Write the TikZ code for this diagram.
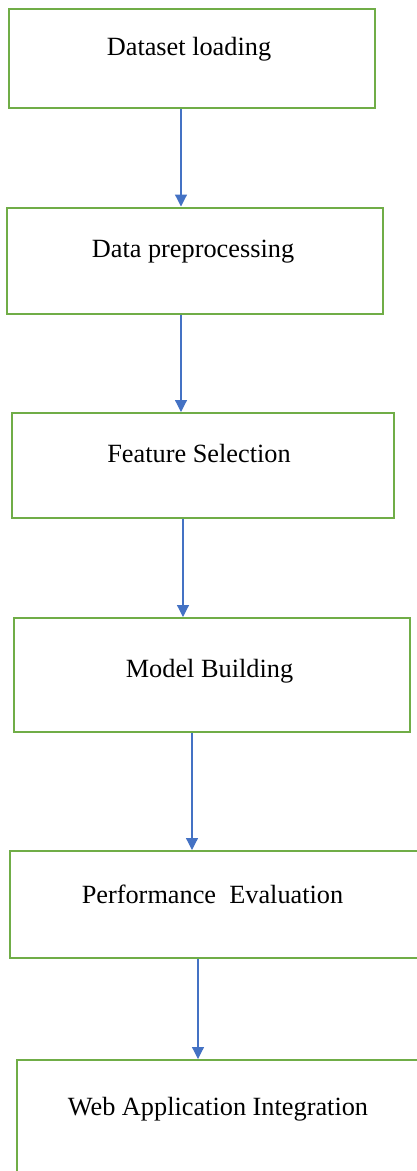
\documentclass[tikz,border=0pt]{standalone}
\usepackage{fontspec}
\setmainfont{Liberation Serif}
\usetikzlibrary{arrows.meta}
\definecolor{boxgreen}{HTML}{70AD47}
\definecolor{flowblue}{HTML}{4472C4}
\tikzset{
  x=1pt, y=-1pt,
  stagebox/.style={draw=boxgreen, line width=2pt, fill=white},
  stagetext/.style={anchor=base, inner sep=0pt, font=\fontsize{26.3}{30}\selectfont},
  flowarrow/.style={draw=flowblue, line width=1.2pt,
    -{Triangle[width=12pt,length=12pt]}}
}
\begin{document}
\begin{tikzpicture}
\useasboundingbox (0,0) rectangle (417,1171);
\clip (0,0) rectangle (417,1171);
% stage boxes
\node[stagebox, rectangle, minimum width=366pt, minimum height=99pt, anchor=north west] (b1) at (8,8) {};
\node[stagebox, rectangle, minimum width=376pt, minimum height=106pt, anchor=north west] (b2) at (6,206.5) {};
\node[stagebox, rectangle, minimum width=382pt, minimum height=105pt, anchor=north west] (b3) at (11,412) {};
\node[stagebox, rectangle, minimum width=396pt, minimum height=114pt, anchor=north west] (b4) at (13,617) {};
\node[stagebox, rectangle, minimum width=430pt, minimum height=107pt, anchor=north west] (b5) at (9,850) {};
\node[stagebox, rectangle, minimum width=430pt, minimum height=140pt, anchor=north west] (b6) at (16,1059) {};
% stage labels
\node[stagetext] (t1) at (189,55) {Dataset loading};
\node[stagetext] (t2) at (193,257) {Data preprocessing};
\node[stagetext] (t3) at (199,462) {Feature Selection};
\node[stagetext] (t4) at (209.5,677) {Model Building};
\node[stagetext] (t5) at (212.5,903) {Performance\ \ Evaluation};
\node[stagetext] (t6) at (218,1115) {Web\ Application\ Integration};
% flow connectors
\draw[flowarrow] (b1.south -| 181,0) -- (b2.north -| 181,0);
\draw[flowarrow] (b2.south -| 181,0) -- (b3.north -| 181,0);
\draw[flowarrow] (b3.south -| 183,0) -- (b4.north -| 183,0);
\draw[flowarrow] (b4.south -| 192,0) -- (b5.north -| 192,0);
\draw[flowarrow] (b5.south -| 198,0) -- (b6.north -| 198,0);
\end{tikzpicture}
\end{document}
